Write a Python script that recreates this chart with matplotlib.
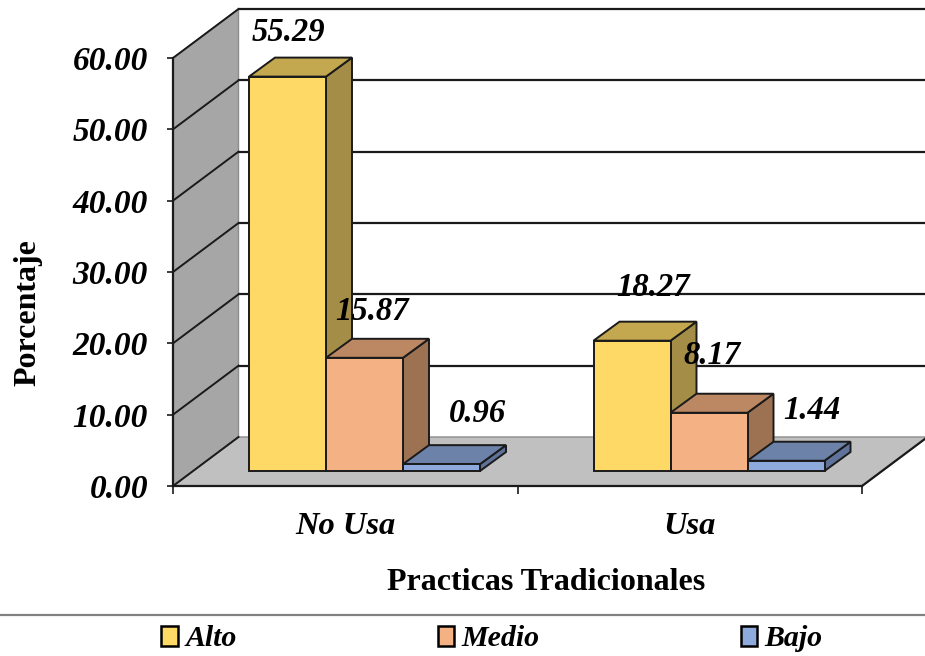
import matplotlib
matplotlib.use("Agg")
import matplotlib.pyplot as plt
from matplotlib.lines import Line2D
from matplotlib.patches import Patch, Polygon
import numpy as np

plt.rcParams['font.family'] = ['Liberation Serif', 'DejaVu Serif']

categories = ["No Usa", "Usa"]
series_names = ["Alto", "Medio", "Bajo"]
alto = [55.29, 18.27]
medio = [15.87, 8.17]
bajo = [0.96, 1.44]
y_ticks = [0, 10, 20, 30, 40, 50, 60]

front_colors = ["#FFD966", "#F4B183", "#8EA9DB"]
top_colors = ["#C4A84F", "#BC8864", "#6D82A8"]
side_colors = ["#A38D47", "#9C7253", "#5F7299"]
line_col = "#1a1a1a"

# label nudges in pixels, from bar centre and bar top
label_nudge = [[(1, 44), (8, 46), (36, 51)], [(21, 53), (3, 57), (26, 50)]]

W, H = 925, 656
fig = plt.figure(figsize=(W / 100, H / 100), dpi=100)
ax = fig.add_axes([173 / W, 1 - 486 / H, 689 / W, 428 / H])
ax.set_xlim(0, 2)
ax.set_ylim(0, 60)
ax.patch.set_visible(False)

# pixels to data units, the fake 3d depth works in these
px_x = 2 / 689
px_y = 60 / 428
depth_x = 65.5 * px_x
depth_y = 49 * px_y
bar_w = 77 * px_x
bar_dx = 26 * px_x
bar_dy = 19 * px_y
lift = 15 * px_y
start = 76 * px_x

# floor and side wall
right = 2 + depth_x
ax.add_patch(Polygon([(0, 0), (2, 0), (right, depth_y), (depth_x, depth_y)],
                     fc="#C0C0C0", ec="#8c8c8c", lw=1, clip_on=False, zorder=1))
ax.add_patch(Polygon([(0, 0), (depth_x, depth_y), (depth_x, 60 + depth_y), (0, 60)],
                     fc="#A6A6A6", ec="#8c8c8c", lw=1, clip_on=False, zorder=1))
ax.plot([2, right], [0, depth_y], color=line_col, lw=1.6, clip_on=False, zorder=2)

# grid lines over wall and back
for t in y_ticks:
    if t > 0:
        ax.plot([depth_x, right], [t + depth_y, t + depth_y], color=line_col,
                lw=1.6, clip_on=False, zorder=2)
    ax.plot([0, depth_x], [t, t + depth_y], color=line_col, lw=1.4,
            clip_on=False, zorder=2)

z = 3
for c in range(len(categories)):
    for s, vals in enumerate([alto, medio, bajo]):
        v = vals[c]
        x0 = c + start + s * bar_w
        x1 = x0 + bar_w
        y0 = lift
        y1 = lift + v
        kw = dict(ec=line_col, lw=1.4, clip_on=False, zorder=z)
        ax.add_patch(Polygon([(x1, y0), (x1 + bar_dx, y0 + bar_dy),
                              (x1 + bar_dx, y1 + bar_dy), (x1, y1)],
                             fc=side_colors[s], **kw))
        ax.add_patch(Polygon([(x0, y1), (x1, y1), (x1 + bar_dx, y1 + bar_dy),
                              (x0 + bar_dx, y1 + bar_dy)],
                             fc=top_colors[s], **kw))
        ax.bar(x0, v, width=bar_w, bottom=y0, align="edge", color=front_colors[s],
               edgecolor=line_col, linewidth=1.4, clip_on=False, zorder=z)
        z += 1

for c in range(len(categories)):
    for s, vals in enumerate([alto, medio, bajo]):
        nx, ny = label_nudge[c][s]
        ax.annotate("%.2f" % vals[c],
                    (c + start + (s + 0.5) * bar_w, lift + vals[c]),
                    xytext=(nx, ny), textcoords="offset pixels",
                    ha="center", va="center", fontsize=23.5, fontweight="bold",
                    fontstyle="italic", color="black", zorder=50,
                    annotation_clip=False)

for side in ["top", "right"]:
    ax.spines[side].set_visible(False)
for side in ["left", "bottom"]:
    ax.spines[side].set_linewidth(1.6)
    ax.spines[side].set_color(line_col)
    ax.spines[side].set_zorder(20)

ax.set_yticks(y_ticks)
ax.set_yticklabels(["%.2f" % t for t in y_ticks], fontsize=24,
                   fontweight="bold", fontstyle="italic")
ax.tick_params(axis="y", length=4, width=1.2, pad=14, color=line_col)
ax.set_xticks([0, 1, 2])
ax.set_xticklabels([])
ax.set_xticks([0.5, 1.5], categories, minor=True, fontsize=23.4,
              fontweight="bold", fontstyle="italic")
ax.tick_params(axis="x", which="major", length=6, width=1.2, color=line_col)
ax.tick_params(axis="x", which="minor", length=0, pad=19)

fig.text(28 / W, 1 - 313 / H, "Porcentaje", rotation=90, ha="center", va="center",
         fontsize=23, fontweight="bold")
fig.text(546 / W, 1 - 583 / H, "Practicas Tradicionales", ha="center", va="center",
         fontsize=23, fontweight="bold")

# legend separator
fig.add_artist(Line2D([0, 1], [1 - 615 / H, 1 - 615 / H], color="#808080", lw=1.6))

handles = [Patch(fc=col, ec="black", lw=1.8) for col in front_colors]
fig.legend(handles, series_names, ncols=3, loc="center", frameon=False,
           bbox_to_anchor=(492 / W, 1 - 639 / H), handlelength=0.55, handleheight=0.65,
           handletextpad=0.25, columnspacing=6.73,
           prop=dict(family='Liberation Serif', size=21.5, weight="bold", style="italic"))

fig.savefig("out.png", dpi=100)
